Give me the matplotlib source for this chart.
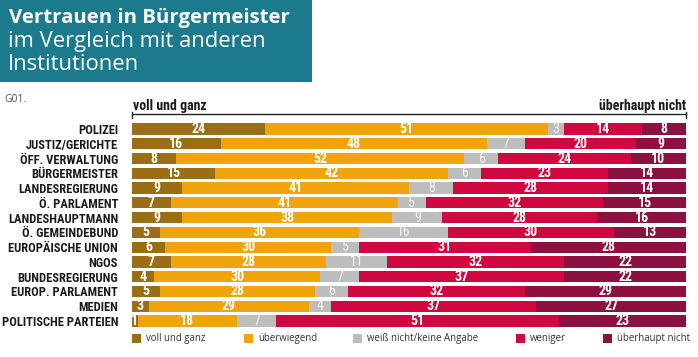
import matplotlib
matplotlib.use("Agg")
import matplotlib.pyplot as plt
from matplotlib.patches import Rectangle
import numpy as np

categories = ["POLIZEI", "JUSTIZ/GERICHTE", "ÖFF. VERWALTUNG", "BÜRGERMEISTER",
              "LANDESREGIERUNG", "Ö. PARLAMENT", "LANDESHAUPTMANN", "Ö. GEMEINDEBUND",
              "EUROPÄISCHE UNION", "NGOS", "BUNDESREGIERUNG", "EUROP. PARLAMENT",
              "MEDIEN", "POLITISCHE PARTEIEN"]
voll = [24, 16, 8, 15, 9, 7, 9, 5, 6, 7, 4, 5, 3, 1]
ueberwiegend = [51, 48, 52, 42, 41, 41, 38, 36, 30, 28, 30, 28, 29, 18]
weiss = [3, 7, 6, 6, 8, 5, 9, 16, 5, 11, 7, 6, 4, 7]
weniger = [14, 20, 24, 23, 28, 32, 28, 30, 31, 32, 37, 32, 37, 51]
nicht = [8, 9, 10, 14, 14, 15, 16, 13, 28, 22, 22, 29, 27, 23]
series_names = ["voll und ganz", "überwiegend", "weiß nicht/keine Angabe", "weniger", "überhaupt nicht"]

colors = ["#9b6d14", "#f0a30a", "#bdbdbd", "#d0083f", "#8c1040"]

COND = ["Roboto Condensed", "DejaVu Sans"]
WIDE = ["Open Sans", "DejaVu Sans"]
plt.rcParams['font.family'] = COND

W, H = 698, 357
fig = plt.figure(figsize=(W/100, H/100), dpi=100)
fig.patch.set_facecolor("white")

def fx(x): return x / W
def fy(y): return 1 - y / H

# Title box
fig.patches.append(Rectangle((0, fy(82)), fx(312), 82/H, transform=fig.transFigure,
                             facecolor="#1b7b8d", edgecolor="none"))
fig.text(fx(9), fy(18), "Vertrauen in Bürgermeister", color="white", fontsize=14.7,
         fontweight="bold", family=WIDE, va="center", ha="left")
fig.text(fx(8), fy(42), "im Vergleich mit anderen", color="white", fontsize=15.8,
         family=WIDE, fontweight="normal", va="center", ha="left")
fig.text(fx(8), fy(64), "Institutionen", color="white", fontsize=15.8,
         family=WIDE, fontweight="normal", va="center", ha="left")
fig.text(fx(4), fy(100), "G01.", color="#555555", fontsize=7.5,
         family=WIDE, va="center", ha="left")

# Axes
left, right = 132, 686
top, bottom = 121.6, 328.4
ax = fig.add_axes([fx(left), fy(bottom), fx(right - left), (bottom - top) / H])
data = np.array([voll, ueberwiegend, weiss, weniger, nicht], dtype=float)
totals = data.sum(axis=0)
norm = data / totals * 100
y = np.arange(len(categories))
cum = np.zeros(len(categories))
for k in range(5):
    ax.barh(y, norm[k], left=cum, height=0.76, color=colors[k], edgecolor="none")
    for i in range(len(categories)):
        c = cum[i] + norm[k][i] / 2
        tc = "#f4f4f4" if k == 2 else "white"
        fw = "normal" if k == 2 else "bold"
        ax.text(c, y[i], str(int(data[k][i])), ha="center", va="center",
                color=tc, fontsize=10, fontweight=fw)
    cum += norm[k]
ax.set_xlim(0, 100)
ax.set_ylim(len(categories) - 0.5, -0.5)
ax.set_yticks(y)
ax.set_yticklabels(categories, fontsize=9, fontweight="bold", color="#1a1a1a")
ax.tick_params(axis="y", length=0, pad=10)
ax.set_xticks([])
for s in ax.spines.values():
    s.set_visible(False)

# top scale line
fig.add_artist(plt.Line2D([fx(left), fx(right)], [fy(114), fy(114)], color="#222222", lw=1.0))
fig.add_artist(plt.Line2D([fx(left), fx(left)], [fy(112), fy(118)], color="#222222", lw=1.0))
fig.add_artist(plt.Line2D([fx(right), fx(right)], [fy(112), fy(118)], color="#222222", lw=1.0))
fig.text(fx(left + 1), fy(106), "voll und ganz", fontsize=10, fontweight="bold",
         color="#1a1a1a", ha="left", va="center")
fig.text(fx(right), fy(106), "überhaupt nicht", fontsize=10, fontweight="bold",
         color="#1a1a1a", ha="right", va="center")

# legend
lx = [132, 244, 353, 516, 603]
for k in range(5):
    fig.patches.append(Rectangle((fx(lx[k]), fy(343)), fx(9), 9/H, transform=fig.transFigure,
                                 facecolor=colors[k], edgecolor="none"))
    fig.text(fx(lx[k] + 14), fy(338.5), series_names[k], fontsize=6.9, color="#333333",
             family=WIDE, ha="left", va="center")

fig.savefig("out.png", dpi=100)
